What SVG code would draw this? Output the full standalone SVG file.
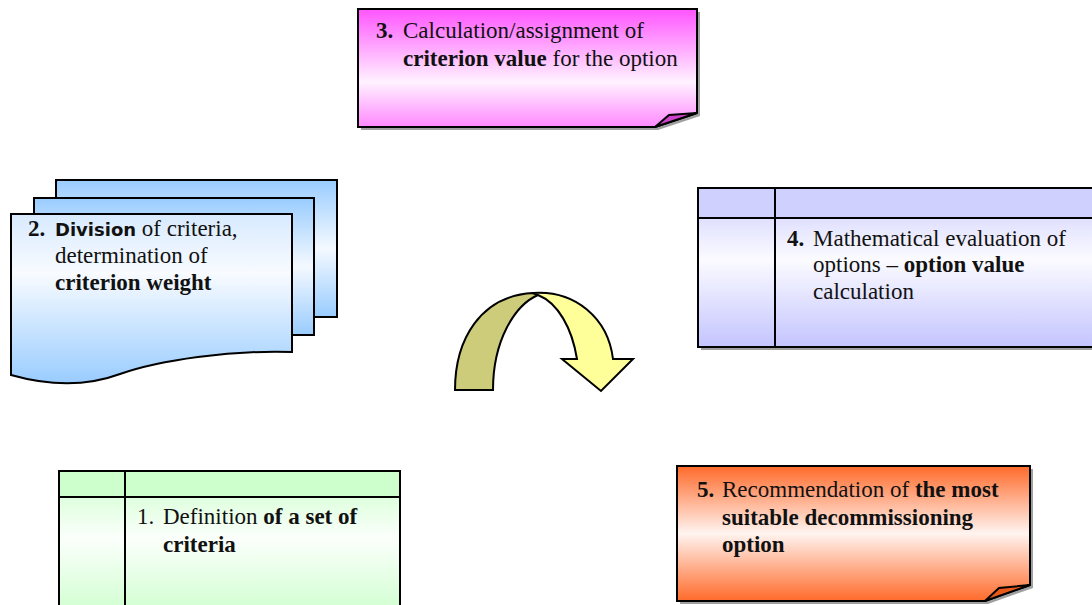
<svg xmlns="http://www.w3.org/2000/svg" width="1092" height="605" viewBox="0 0 1092 605">
  <defs>
    <linearGradient id="gMagenta" x1="0" y1="0" x2="0" y2="1">
      <stop offset="0" stop-color="#ff55ff"/>
      <stop offset="0.62" stop-color="#fff2ff"/>
      <stop offset="1" stop-color="#ff88ff"/>
    </linearGradient>
    <linearGradient id="gBlue" x1="0" y1="0" x2="0" y2="1">
      <stop offset="0" stop-color="#99ccff"/>
      <stop offset="0.5" stop-color="#f4f9ff"/>
      <stop offset="1" stop-color="#99ccff"/>
    </linearGradient>
    <linearGradient id="gBlueFront" x1="0" y1="0" x2="0" y2="1">
      <stop offset="0" stop-color="#d8eaff"/>
      <stop offset="0.35" stop-color="#f8fbff"/>
      <stop offset="1" stop-color="#99ccff"/>
    </linearGradient>
    <linearGradient id="gLavender" x1="0" y1="0" x2="0" y2="1">
      <stop offset="0" stop-color="#ccccff"/>
      <stop offset="0.45" stop-color="#fbfbff"/>
      <stop offset="1" stop-color="#c4c4ff"/>
    </linearGradient>
    <linearGradient id="gGreen" x1="0" y1="0" x2="0" y2="1">
      <stop offset="0" stop-color="#ccffcc"/>
      <stop offset="0.45" stop-color="#fbfffb"/>
      <stop offset="1" stop-color="#ccffcc"/>
    </linearGradient>
    <linearGradient id="gOrange" x1="0" y1="0" x2="0" y2="1">
      <stop offset="0" stop-color="#ff6a2a"/>
      <stop offset="0.5" stop-color="#fff4f0"/>
      <stop offset="1" stop-color="#ff6a2a"/>
    </linearGradient>
  </defs>
  <style>
    .edge { stroke: #000; stroke-width: 2; stroke-linejoin: miter; }
    .shadow { fill: #a0a0a0; }
    .t { font-family: "Liberation Serif", "Times New Roman", serif; font-size: 23px; fill: #111; }
    .b { font-weight: bold; }
    .sans { font-family: "DejaVu Sans", "Liberation Sans", sans-serif; font-size: 18px; font-weight: bold; }
  </style>

  <rect width="1092" height="605" fill="#ffffff"/>

  <!-- Step 3: note with folded corner -->
  <g id="step3">
    <path class="shadow" d="M361,12 H700 V116 L658,130 H361 Z"/>
    <path class="edge" fill="url(#gMagenta)" d="M358,9 H697 V113 L655,127 H358 Z"/>
    <path class="edge" fill="#cc44cc" stroke-width="1.5" d="M655,127 L669,115 L697,113 Z"/>
    <text class="t" x="376" y="38"><tspan class="b">3.</tspan><tspan x="403">Calculation/assignment of</tspan></text>
    <text class="t" x="403" y="66"><tspan class="b">criterion value</tspan> for the option</text>
  </g>

  <!-- Step 2: stacked documents -->
  <g id="step2">
    <rect class="edge" fill="url(#gBlue)" x="56" y="180" width="281" height="137"/>
    <rect class="edge" fill="url(#gBlue)" x="34" y="198" width="280" height="137"/>
    <path class="edge" fill="url(#gBlueFront)" d="M11,214 H292 V352 C230,350 160,360 120,374 C85,387 50,386 11,375 Z"/>
    <text class="t" x="28" y="236"><tspan class="b">2.</tspan><tspan class="sans" x="55">Division</tspan> of criteria,</text>
    <text class="t" x="55" y="263">determination of</text>
    <text class="t b" x="55" y="290">criterion weight</text>
  </g>

  <!-- Step 4: table-style box -->
  <g id="step4">
    <rect class="shadow" x="701" y="191" width="395" height="159"/>
    <rect class="edge" fill="url(#gLavender)" x="698" y="188" width="400" height="159"/>
    <rect fill="#d0d0ff" x="699" y="189" width="398" height="29"/>
    <line class="edge" x1="698" y1="218" x2="1098" y2="218"/>
    <line class="edge" x1="775" y1="188" x2="775" y2="347"/>
    <text class="t" x="787" y="246"><tspan class="b">4.</tspan><tspan x="813">Mathematical evaluation of</tspan></text>
    <text class="t" x="813" y="272">options – <tspan class="b">option value</tspan></text>
    <text class="t" x="813" y="299">calculation</text>
  </g>

  <!-- Step 1: table-style box -->
  <g id="step1">
    <rect class="edge" fill="url(#gGreen)" x="59" y="471" width="341" height="150"/>
    <rect fill="#ccffcc" x="60" y="472" width="339" height="25"/>
    <line class="edge" x1="59" y1="497" x2="400" y2="497"/>
    <line class="edge" x1="125" y1="471" x2="125" y2="621"/>
    <text class="t" x="137" y="524"><tspan>1.</tspan><tspan x="163">Definition</tspan><tspan class="b"> of a set of</tspan></text>
    <text class="t b" x="163" y="552">criteria</text>
  </g>

  <!-- Step 5: note with folded corner -->
  <g id="step5">
    <path class="shadow" d="M680,469 H1033 V588 L988,604 H680 Z"/>
    <path class="edge" fill="url(#gOrange)" d="M677,466 H1030 V585 L985,601 H677 Z"/>
    <path class="edge" fill="#e85a1a" stroke-width="1.5" d="M985,601 L999,588 L1030,585 Z"/>
    <text class="t" x="697" y="497"><tspan class="b">5.</tspan><tspan x="722">Recommendation of</tspan><tspan class="b"> the most</tspan></text>
    <text class="t b" x="722" y="525">suitable decommissioning</text>
    <text class="t b" x="722" y="552">option</text>
  </g>

  <!-- Connectors: curved cycle arrow -->
  <g id="connectors">
    <path class="edge" stroke-width="1.5" fill="#cccc7a" d="M455,390 C455,340 480,296 533,293 L538,295 C515,305 493,340 493,390 Z"/>
    <path class="edge" stroke-width="1.5" fill="#ffff99" d="M533,293 C575,290 608,318 613,359 L633,359 L601,391 L562,359 L577,359 C572,328 558,303 538,295 Z"/>
  </g>
</svg>
